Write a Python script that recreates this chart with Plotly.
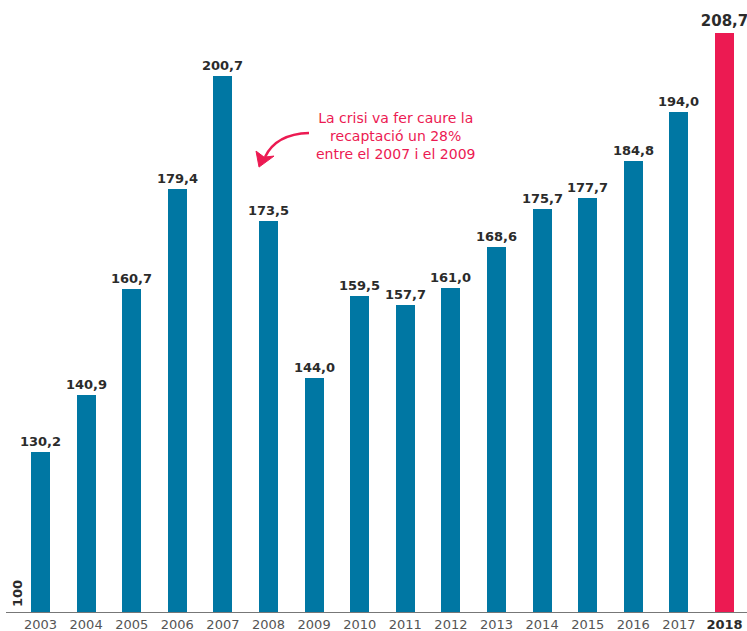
import plotly.graph_objects as go

years = ["2003", "2004", "2005", "2006", "2007", "2008", "2009", "2010",
         "2011", "2012", "2013", "2014", "2015", "2016", "2017", "2018"]
values = [130.2, 140.9, 160.7, 179.4, 200.7, 173.5, 144.0, 159.5,
          157.7, 161.0, 168.6, 175.7, 177.7, 184.8, 194.0, 208.7]

BLUE = "#0077A3"
PINK = "#EC1A52"
DARK = "#2b2b2b"

xpos = list(range(len(years)))
colors = [BLUE] * (len(years) - 1) + [PINK]
labels = [f"{v:.1f}".replace(".", ",") for v in values]
text_sizes = [13] * (len(years) - 1) + [15]

fig = go.Figure()
fig.add_trace(go.Bar(
    x=xpos, y=[v - 100 for v in values], base=100,
    marker=dict(color=colors, line=dict(width=0)),
    width=0.417,
    text=labels, textposition="outside", cliponaxis=False,
    constraintext="none",
    textfont=dict(family="DejaVu Sans", size=text_sizes, color=DARK),
    texttemplate="<b>%{text}</b>",
    hoverinfo="skip",
))

ticktext = years[:-1] + [f"<b><span style='color:{DARK}'>{years[-1]}</span></b>"]

fig.update_layout(
    width=747, height=631,
    margin=dict(l=6, r=0, t=0, b=18, autoexpand=False),
    plot_bgcolor="white", paper_bgcolor="white",
    showlegend=False,
    bargap=0,
    xaxis=dict(
        range=[-0.757, 15.493], tickmode="array", tickvals=xpos, ticktext=ticktext,
        showgrid=False, zeroline=False, showline=False, ticks="",
        ticklabelstandoff=2,
        tickfont=dict(family="DejaVu Sans", size=13, color="#555555"),
        fixedrange=True,
    ),
    yaxis=dict(range=[100, 214.9], visible=False, fixedrange=True),
)

# baseline
fig.add_shape(type="line", xref="paper", yref="y", x0=0, x1=1, y0=100, y1=100,
              line=dict(color="#777777", width=2))

# "100" rotated label
fig.add_annotation(xref="paper", yref="y", x=0.0, y=100, xanchor="left", yanchor="bottom",
                   text="<b>100</b>", textangle=-90, showarrow=False, xshift=2, yshift=4,
                   font=dict(family="DejaVu Sans", size=13, color=DARK))

def px2x(px):
    return (px - 40.5) / 45.6

def py2y(py):
    return 100 + (613 - py) / 5.336

# crisis annotation text
fig.add_annotation(x=px2x(395), y=py2y(136), xref="x", yref="y",
                   text="La crisi va fer caure la<br>recaptació un 28%<br>entre el 2007 i el 2009",
                   showarrow=False, align="center", xanchor="center", yanchor="middle",
                   font=dict(family="DejaVu Sans", size=14, color=PINK))

# curved arrow body
fig.add_shape(type="path", xref="x", yref="y",
              path=f"M {px2x(309)},{py2y(133)} Q {px2x(276)},{py2y(134)} {px2x(265)},{py2y(157)}",
              line=dict(color=PINK, width=2.5))
# arrow head
fig.add_shape(type="path", xref="x", yref="y",
              path=(f"M {px2x(259)},{py2y(167)} L {px2x(256)},{py2y(151)} "
                    f"L {px2x(264)},{py2y(157)} L {px2x(274)},{py2y(156)} Z"),
              fillcolor=PINK, line=dict(color=PINK, width=1))

fig.write_html("out.html", config={"displayModeBar": False},
               post_script="document.body.style.margin='0px';document.body.style.overflow='hidden';")
